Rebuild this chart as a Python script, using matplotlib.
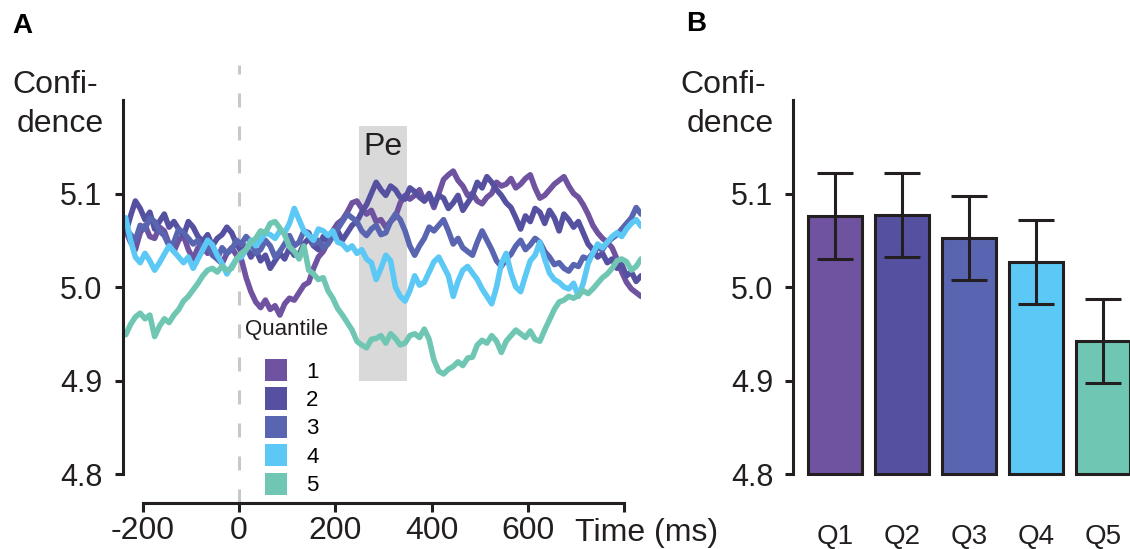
import matplotlib
matplotlib.use('Agg')
import matplotlib.pyplot as plt
from matplotlib.patches import Patch

plt.rcParams['font.family'] = ['Liberation Sans', 'DejaVu Sans']

# Panel A: confidence over time, one trace per quantile (10 ms steps)
time_ms = list(range(-235, 836, 10))

q1 = [5.060, 5.048, 5.040, 5.058, 5.066, 5.054, 5.052, 5.064, 5.060, 5.046,
      5.038, 5.050, 5.055, 5.040, 5.030, 5.042, 5.045, 5.036, 5.040, 5.030,
      5.025, 5.036, 5.042, 5.034, 5.030, 5.010, 4.995, 4.984, 4.978, 4.986,
      4.976, 4.980, 4.970, 4.982, 4.988, 4.986, 4.994, 5.002, 5.005, 5.020,
      5.032, 5.038, 5.048, 5.060, 5.068, 5.072, 5.080, 5.090, 5.092, 5.084,
      5.078, 5.082, 5.070, 5.072, 5.064, 5.070, 5.075, 5.090, 5.098, 5.094,
      5.098, 5.104, 5.092, 5.098, 5.085, 5.100, 5.115, 5.120, 5.124, 5.114,
      5.108, 5.098, 5.100, 5.092, 5.089, 5.096, 5.100, 5.112, 5.108, 5.110,
      5.116, 5.106, 5.110, 5.116, 5.120, 5.106, 5.095, 5.098, 5.104, 5.110,
      5.114, 5.118, 5.108, 5.100, 5.096, 5.088, 5.078, 5.066, 5.058, 5.052,
      5.048, 5.042, 5.030, 5.016, 5.005, 4.998, 4.994, 4.990]
q2 = [5.058, 5.076, 5.092, 5.084, 5.072, 5.080, 5.062, 5.070, 5.078, 5.064,
      5.070, 5.062, 5.055, 5.070, 5.064, 5.054, 5.049, 5.056, 5.044, 5.052,
      5.056, 5.064, 5.058, 5.046, 5.038, 5.044, 5.032, 5.040, 5.028, 5.034,
      5.020, 5.028, 5.036, 5.030, 5.042, 5.034, 5.035, 5.046, 5.052, 5.044,
      5.040, 5.054, 5.048, 5.056, 5.060, 5.050, 5.058, 5.066, 5.070, 5.080,
      5.088, 5.100, 5.112, 5.104, 5.098, 5.108, 5.104, 5.096, 5.094, 5.106,
      5.102, 5.096, 5.092, 5.100, 5.088, 5.098, 5.095, 5.084, 5.090, 5.098,
      5.082, 5.090, 5.098, 5.112, 5.106, 5.118, 5.112, 5.104, 5.098, 5.090,
      5.085, 5.074, 5.062, 5.076, 5.070, 5.084, 5.080, 5.068, 5.082, 5.074,
      5.060, 5.078, 5.072, 5.064, 5.070, 5.058, 5.046, 5.040, 5.032, 5.036,
      5.026, 5.030, 5.020, 5.024, 5.012, 5.016, 5.006, 5.012]
q3 = [5.063, 5.056, 5.050, 5.066, 5.062, 5.074, 5.070, 5.060, 5.055, 5.044,
      5.048, 5.062, 5.058, 5.052, 5.046, 5.050, 5.038, 5.044, 5.034, 5.030,
      5.042, 5.036, 5.040, 5.050, 5.046, 5.054, 5.048, 5.036, 5.040, 5.050,
      5.044, 5.032, 5.038, 5.046, 5.055, 5.044, 5.048, 5.060, 5.058, 5.046,
      5.050, 5.042, 5.046, 5.054, 5.062, 5.070, 5.078, 5.074, 5.070, 5.060,
      5.055, 5.062, 5.066, 5.056, 5.058, 5.070, 5.078, 5.072, 5.060, 5.044,
      5.034, 5.044, 5.052, 5.064, 5.060, 5.066, 5.072, 5.060, 5.046, 5.052,
      5.042, 5.038, 5.034, 5.048, 5.060, 5.050, 5.040, 5.028, 5.022, 5.030,
      5.035, 5.044, 5.050, 5.040, 5.045, 5.052, 5.048, 5.038, 5.032, 5.024,
      5.026, 5.020, 5.017, 5.024, 5.022, 5.032, 5.030, 5.036, 5.042, 5.040,
      5.048, 5.052, 5.056, 5.062, 5.068, 5.074, 5.085, 5.078]
q4 = [5.074, 5.050, 5.032, 5.026, 5.036, 5.028, 5.018, 5.026, 5.035, 5.044,
      5.038, 5.032, 5.026, 5.032, 5.020, 5.030, 5.040, 5.050, 5.045, 5.034,
      5.025, 5.014, 5.022, 5.030, 5.032, 5.040, 5.050, 5.044, 5.050, 5.058,
      5.056, 5.052, 5.060, 5.058, 5.068, 5.084, 5.072, 5.060, 5.055, 5.050,
      5.062, 5.060, 5.055, 5.060, 5.048, 5.046, 5.040, 5.044, 5.036, 5.040,
      5.030, 5.026, 5.008, 5.020, 5.034, 5.028, 5.000, 4.990, 4.985, 4.996,
      5.012, 5.002, 5.005, 5.016, 5.027, 5.032, 5.022, 5.012, 4.990, 5.006,
      5.018, 5.022, 5.015, 5.008, 4.998, 4.990, 4.982, 5.000, 5.025, 5.036,
      5.015, 5.000, 4.995, 5.012, 5.028, 5.034, 5.048, 5.030, 5.015, 5.008,
      5.005, 5.000, 4.998, 5.004, 4.990, 5.004, 5.025, 5.036, 5.046, 5.042,
      5.048, 5.054, 5.058, 5.054, 5.062, 5.068, 5.072, 5.065]
q5 = [4.949, 4.960, 4.968, 4.972, 4.966, 4.970, 4.947, 4.958, 4.966, 4.962,
      4.970, 4.976, 4.985, 4.990, 4.997, 5.004, 5.012, 5.018, 5.020, 5.016,
      5.022, 5.018, 5.020, 5.030, 5.036, 5.040, 5.048, 5.052, 5.060, 5.058,
      5.068, 5.070, 5.063, 5.056, 5.043, 5.038, 5.030, 5.044, 5.018, 5.014,
      5.008, 5.010, 4.996, 4.988, 4.977, 4.970, 4.962, 4.954, 4.942, 4.938,
      4.935, 4.944, 4.945, 4.948, 4.940, 4.950, 4.945, 4.938, 4.940, 4.948,
      4.950, 4.946, 4.955, 4.944, 4.922, 4.910, 4.907, 4.912, 4.915, 4.920,
      4.916, 4.924, 4.925, 4.938, 4.943, 4.940, 4.948, 4.942, 4.930, 4.942,
      4.948, 4.954, 4.950, 4.946, 4.953, 4.944, 4.942, 4.954, 4.965, 4.976,
      4.984, 4.986, 4.990, 4.988, 4.991, 4.996, 4.993, 4.998, 5.004, 5.010,
      5.014, 5.020, 5.028, 5.030, 5.027, 5.018, 5.022, 5.030]

quantiles = ['1', '2', '3', '4', '5']
colors = ['#6f52a0', '#5551a0', '#5965b0', '#5bc8f5', '#6fc7b3']

# Pe window (ms) and its shaded confidence band
pe_start, pe_end = 250, 350
pe_low, pe_high = 4.9, 5.172

# Panel B: mean confidence per quantile with error bars
bar_labels = ['Q1', 'Q2', 'Q3', 'Q4', 'Q5']
bar_means = [5.0755, 5.077, 5.0525, 5.0265, 4.942]
bar_errs = [0.046, 0.045, 0.045, 0.045, 0.045]

ink = '#231f20'
W, H = 1130, 549

fig = plt.figure(figsize=(W / 100, H / 100), dpi=100)

# ---------------- Panel A ----------------
axA = fig.add_axes([123 / W, 46 / H, (641 - 123) / W, 403 / H])
axA.set_xlim(-240.7, 835)
axA.set_ylim(4.769, 5.2)

axA.fill_between([pe_start, pe_end], pe_low, pe_high, color='#d9d9da',
                 linewidth=0, zorder=0)
axA.text((pe_start + pe_end) / 2, 5.150, 'Pe', ha='center', va='center',
         fontsize=23, color=ink)

axA.plot([0, 0], [4.769, 5.2375], color='#c8c8c8', lw=2.2,
         linestyle=(0, (4.6, 6.2)), clip_on=False, zorder=1)

for vals, c in zip([q1, q2, q3, q4, q5], colors):
    axA.plot(time_ms, vals, color=c, lw=4.0, solid_joinstyle='round',
             solid_capstyle='round', zorder=2)

for s in ['top', 'right']:
    axA.spines[s].set_visible(False)
for s in ['left', 'bottom']:
    axA.spines[s].set_linewidth(2.2)
    axA.spines[s].set_color(ink)
axA.spines['left'].set_bounds(4.8, 5.2)
axA.spines['bottom'].set_bounds(-200, 800)

axA.set_yticks([4.8, 4.9, 5.0, 5.1])
axA.set_yticklabels(['4.8', '4.9', '5.0', '5.1'])
axA.set_xticks([-200, 0, 200, 400, 600, 800])
axA.set_xticklabels(['-200', '0', '200', '400', '600', ''])
axA.tick_params(axis='y', length=6, width=2.2, color=ink, labelsize=22,
                labelcolor=ink, pad=9)
axA.tick_params(axis='x', length=6.5, width=2.2, color=ink, labelsize=23,
                labelcolor=ink, pad=3)

handles = [Patch(facecolor=c, edgecolor='none') for c in colors]
axA.legend(handles, quantiles, loc='upper left',
           bbox_to_anchor=(265 / W, 1 - 359 / H),
           bbox_transform=fig.transFigure, frameon=False, fontsize=16,
           handlelength=1.0, handleheight=1.15, handletextpad=0.85,
           labelspacing=0.22, borderpad=0, borderaxespad=0)
fig.text(245 / W, 1 - 330 / H, 'Quantile', va='center', fontsize=16, color=ink)

fig.text(647 / W, 1 - 541 / H, 'Time (ms)', ha='center', va='baseline',
         fontsize=23, color=ink)
fig.text(12 / W, 1 - 33 / H, 'A', fontsize=20, fontweight='bold', color='black')
fig.text(12 / W, 1 - 93 / H, 'Confi-', fontsize=23, color=ink)
fig.text(17 / W, 1 - 132 / H, 'dence', fontsize=23, color=ink)

# ---------------- Panel B ----------------
axB = fig.add_axes([793 / W, 46 / H, (W - 793) / W, 403 / H])
pos = list(range(1, len(bar_labels) + 1))
axB.bar(pos, [m - 4.8 for m in bar_means], bottom=4.8, width=0.81,
        color=colors, edgecolor=ink, linewidth=2.2, zorder=2)
axB.errorbar(pos, bar_means, yerr=bar_errs, fmt='none', ecolor=ink,
             elinewidth=2.2, capsize=13, capthick=2.2, zorder=3)
axB.set_xlim(0.377, 5.40)
axB.set_ylim(4.769, 5.2)

for s in ['top', 'right', 'bottom']:
    axB.spines[s].set_visible(False)
axB.spines['left'].set_linewidth(2.2)
axB.spines['left'].set_color(ink)
axB.spines['left'].set_bounds(4.8, 5.2)

axB.set_yticks([4.8, 4.9, 5.0, 5.1])
axB.set_yticklabels(['4.8', '4.9', '5.0', '5.1'])
axB.set_xticks(pos)
axB.set_xticklabels(bar_labels)
axB.tick_params(axis='y', length=6, width=2.2, color=ink, labelsize=22,
                labelcolor=ink, pad=8)
axB.tick_params(axis='x', length=0, labelsize=20, labelcolor=ink, pad=15)

fig.text(686 / W, 1 - 31 / H, 'B', fontsize=20, fontweight='bold', color='black')
fig.text(680 / W, 1 - 93 / H, 'Confi-', fontsize=23, color=ink)
fig.text(687 / W, 1 - 132 / H, 'dence', fontsize=23, color=ink)

fig.savefig('out.png', dpi=100)
